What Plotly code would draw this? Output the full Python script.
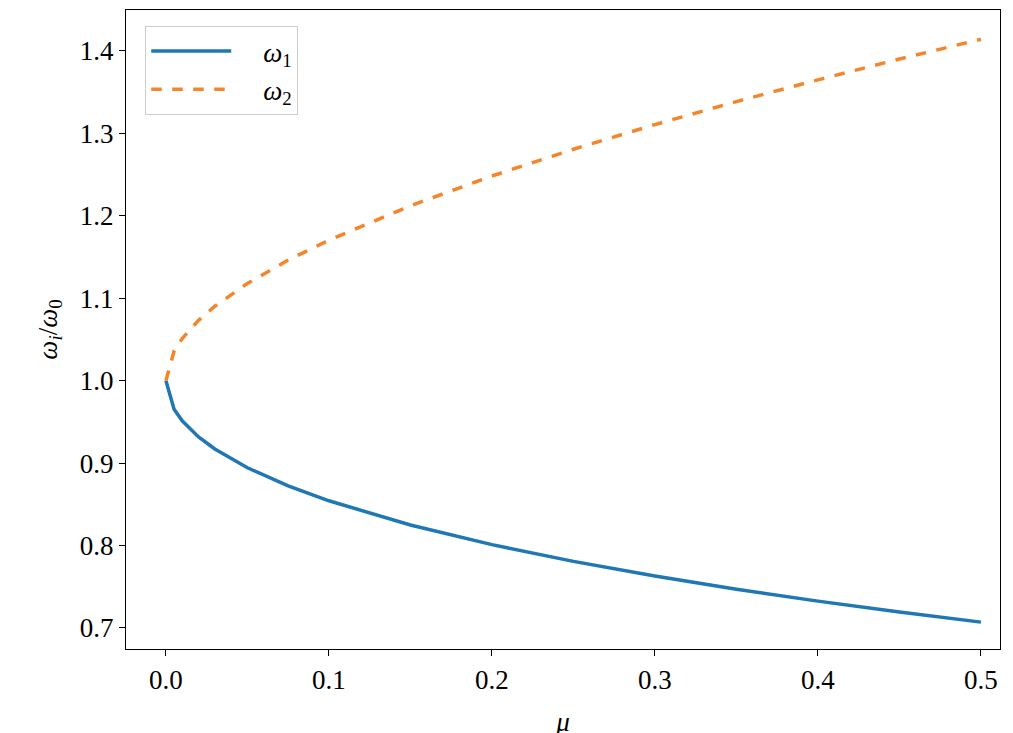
import plotly.graph_objects as go

mu = [0, 0.005, 0.01, 0.02, 0.03, 0.05, 0.075, 0.1, 0.15, 0.2, 0.25, 0.3, 0.35, 0.4, 0.45, 0.5]
omega1 = [1.0, 0.9653, 0.9513, 0.9318, 0.9171, 0.8944, 0.8724, 0.8543, 0.8249, 0.8011, 0.7808, 0.7630, 0.7470, 0.7326, 0.7193, 0.7071]
omega2 = [1.0, 1.0360, 1.0512, 1.0732, 1.0903, 1.1180, 1.1463, 1.1705, 1.2122, 1.2483, 1.2808, 1.3107, 1.3386, 1.3650, 1.3902, 1.4142]
xticks = [0, 0.1, 0.2, 0.3, 0.4, 0.5]
yticks = [0.7, 0.8, 0.9, 1.0, 1.1, 1.2, 1.3, 1.4]

font = dict(family="Liberation Serif", size=27, color="black")
fig = go.Figure()
fig.add_trace(go.Scatter(x=mu, y=omega1, mode="lines", name="    <i>ω</i><sub>1</sub>",
                         line=dict(color="#1f77b4", width=3.5)))
fig.add_trace(go.Scatter(x=mu, y=omega2, mode="lines", name="    <i>ω</i><sub>2</sub>",
                         line=dict(color="#f5852a", width=3.5, dash="dash")))
axis = dict(showgrid=False, zeroline=False, showline=True, linecolor="black", linewidth=1.2,
            mirror=True, ticks="outside", ticklen=6, tickcolor="black", tickfont=font,
            automargin=False)
fig.update_layout(
    width=1013, height=733, plot_bgcolor="white", paper_bgcolor="white", font=font,
    margin=dict(l=118, r=21, t=2, b=92),
    xaxis=dict(axis, range=[-0.0245, 0.5117], tickvals=xticks, tickformat=".1f",
               title=dict(text="<i>μ</i>", font=font, standoff=18)),
    yaxis=dict(axis, range=[0.6745, 1.4497], tickvals=yticks, tickformat=".1f",
               title=dict(text="<i>ω<sub>i</sub></i>/<i>ω</i><sub>0</sub>", font=font, standoff=14)),
    legend=dict(x=0.022, y=0.975, xanchor="left", yanchor="top", bgcolor="white",
                bordercolor="#cccccc", borderwidth=1, font=font, itemwidth=80,
                tracegroupgap=10),
    showlegend=True,
)
fig.write_html("out.html")
